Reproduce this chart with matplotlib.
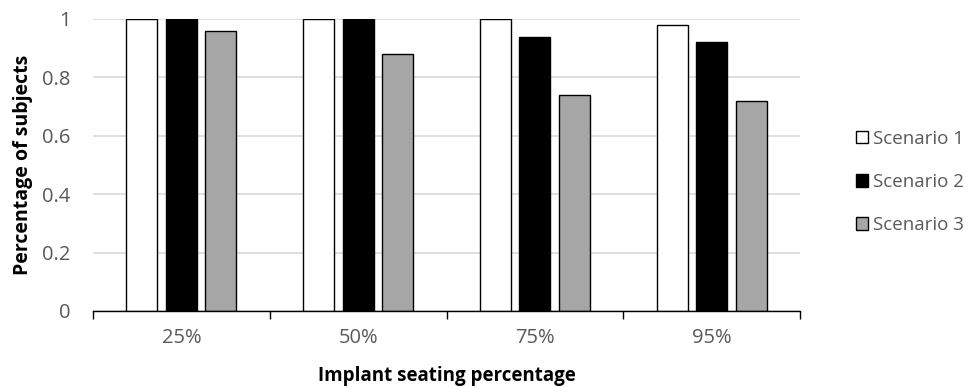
import matplotlib
matplotlib.use("Agg")
import matplotlib.pyplot as plt
import numpy as np
from matplotlib.patches import Patch

categories = ["25%", "50%", "75%", "95%"]
series_names = ["Scenario 1", "Scenario 2", "Scenario 3"]
scenario1 = [1.0, 1.0, 1.0, 0.98]
scenario2 = [1.0, 1.0, 0.94, 0.92]
scenario3 = [0.96, 0.88, 0.74, 0.72]
yticks = [0, 0.2, 0.4, 0.6, 0.8, 1]
ytick_labels = ["0", "0.2", "0.4", "0.6", "0.8", "1"]
colors = ["#ffffff", "#000000", "#a6a6a6"]

plt.rcParams['font.family'] = ['Open Sans', 'DejaVu Sans']

fig = plt.figure(figsize=(9.68, 3.87), dpi=100)
ax = fig.add_axes([93/968, (387-311)/387, (800-93)/968, (311-19)/387])

x = np.arange(len(categories))
width = 0.175
step = 0.223
for i, (vals, c) in enumerate(zip([scenario1, scenario2, scenario3], colors)):
    ax.bar(x + (i - 1) * step, vals, width, color=c, edgecolor="#000000",
           linewidth=1.0, zorder=3, label=series_names[i])

ax.set_xlim(-0.5, len(categories) - 0.5)
ax.set_ylim(0, 1)
ax.set_yticks(yticks)
ax.set_yticklabels(ytick_labels)
ax.set_xticks(x)
ax.set_xticklabels(categories)
ax.set_xticks(np.arange(len(categories) + 1) - 0.5, minor=True)
ax.tick_params(axis='x', which='major', length=0, pad=12, labelsize=14.5, labelcolor="#595959")
ax.tick_params(axis='x', which='minor', length=6, width=1, color="#000000", direction='out')
ax.tick_params(axis='y', length=0, pad=16, labelsize=14.5, labelcolor="#595959")

ax.yaxis.grid(True, color="#d9d9d9", linewidth=1.2, zorder=0)
ax.set_axisbelow(True)
for s in ["top", "right", "left"]:
    ax.spines[s].set_visible(False)
ax.spines["bottom"].set_color("#000000")
ax.spines["bottom"].set_linewidth(1.0)
ax.spines["bottom"].set_zorder(4)

ax.set_ylabel("Percentage of subjects", fontsize=14, fontweight="bold", labelpad=7)
ax.set_xlabel("Implant seating percentage", fontsize=13.5, fontweight="bold", labelpad=13)

handles = [Patch(facecolor=c, edgecolor="#000000", linewidth=1.0) for c in colors]
fig.legend(handles, series_names, loc="center left", bbox_to_anchor=(856/968, 1 - 182/387),
           frameon=False, fontsize=13.5, handlelength=0.65, handleheight=0.65,
           handletextpad=0.25, labelspacing=1.35, labelcolor="#595959",
           borderaxespad=0, borderpad=0)

fig.savefig("out.png", dpi=100)
